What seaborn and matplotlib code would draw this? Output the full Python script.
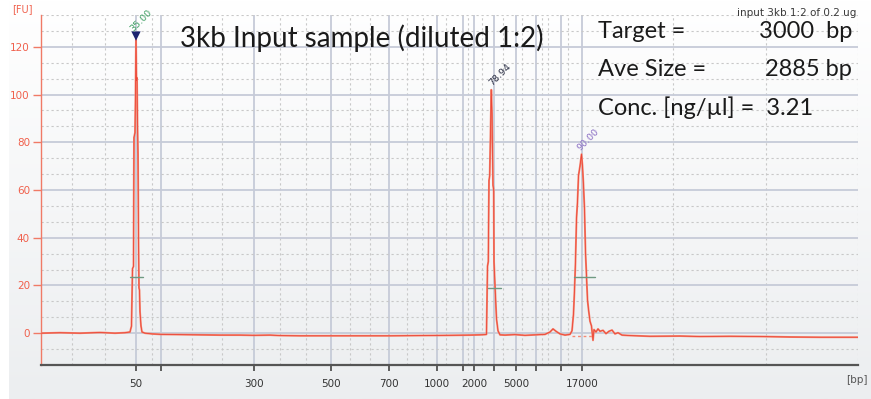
import matplotlib
matplotlib.use("Agg")
import matplotlib.pyplot as plt
import numpy as np
import seaborn as sns
from matplotlib.colors import LinearSegmentedColormap
from matplotlib.ticker import MultipleLocator

# Electropherogram trace: migration time [s] vs fluorescence [FU]
trace_time = [
    20.0, 20.95, 21.95, 22.95, 23.7, 24.2, 24.45, 24.525, 24.575, 24.625,
    24.65, 24.7, 24.725, 24.75, 24.775, 24.8, 24.825, 24.85, 24.875, 24.9,
    24.925, 24.95, 25.0, 25.05, 25.2, 25.55, 26.0, 26.95, 27.95, 28.95,
    29.95, 30.65, 31.45, 31.95, 32.95, 34.45, 35.95, 37.45, 38.95, 40.45,
    41.45, 41.95, 42.2, 42.275, 42.325, 42.365, 42.4, 42.435, 42.515, 42.55,
    42.6, 42.635, 42.65, 42.7, 42.775, 42.85, 42.95, 43.2, 43.7, 44.2,
    44.7, 45.2, 45.45, 45.6, 45.75, 45.95, 46.2, 46.45, 46.55, 46.625,
    46.675, 46.725, 46.775, 46.825, 46.875, 46.95, 47.025, 47.075, 47.125, 47.175,
    47.225, 47.275, 47.325, 47.375, 47.45, 47.525, 47.6, 47.65, 47.75, 47.85,
    47.95, 48.1, 48.25, 48.4, 48.55, 48.7, 48.85, 49.05, 49.45, 50.45,
    51.95, 52.95, 54.45, 55.95, 57.45, 58.95, 60.85,
]
trace_fu = [
    0.0, 0.2, 0.0, 0.3, 0.0, 0.2, 0.5, 3.0, 27.0, 28.0,
    82.0, 84.0, 100.0, 125.0, 106.0, 107.0, 88.0, 75.0, 40.0, 19.0,
    18.0, 9.0, 3.0, 0.5, 0.0, -0.3, -0.5, -0.6, -0.7, -0.8,
    -0.8, -0.9, -0.8, -1.0, -1.1, -1.1, -1.1, -1.1, -1.0, -0.9,
    -0.8, -0.7, -0.6, -0.5, 28.0, 30.0, 64.0, 66.0, 102.0, 92.0,
    62.0, 60.0, 30.0, 20.0, 6.0, 1.0, -0.7, -0.8, -0.6, -0.9,
    -0.7, -0.5, 0.5, 1.8, 0.8, -0.3, -0.8, -0.5, 1.0, 8.0,
    18.0, 30.0, 48.0, 55.0, 66.0, 70.0, 75.0, 70.0, 62.0, 52.0,
    34.0, 24.0, 14.0, 10.0, 5.0, 3.0, -3.0, 1.5, 0.5, 1.8,
    0.8, 1.2, -0.2, 0.8, 1.3, -0.3, 0.2, -0.8, -1.0, -1.3,
    -1.2, -1.4, -1.3, -1.4, -1.6, -1.7, -1.7,
]

# Size ladder (bp) positions on the time axis
ladder_time = [24.75, 26.0, 30.65, 34.5, 37.4, 39.8, 41.1, 41.65, 42.65, 43.75, 44.75, 46.0, 47.05]
ladder_label = ["50", "", "300", "500", "700", "1000", "", "2000", "", "5000", "", "", "17000"]
minor_time = [21.55, 23.2, 25.55, 27.55, 29.05, 31.95, 33.25, 35.45, 36.45, 38.3,
              39.1, 40.25, 41.35, 42.05, 43.1, 44.05, 45.05, 45.35, 46.35, 51.6,
              56.25, 60.85]

fu_ticks = [0, 20, 40, 60, 80, 100, 120]

# Peak annotations
peak_labels = ["35.00", "78.94", "90.00"]
peak_label_time = [25.0, 42.95, 47.35]
peak_label_fu = [131.0, 108.5, 81.0]
marker_time = [24.75]
marker_fu = [124.5]

# Peak region markers
region_start = [24.45, 42.35, 46.65]
region_end = [25.1, 43.0, 47.7]
region_fu = [23.7, 19.0, 23.4]

stats_left = ["Target =", "Ave Size =", "Conc. [ng/\u00b5l] =  3.21"]
stats_right = ["3000  bp", "2885 bp", ""]

W, H = 871, 399
sns.set_theme(style="white")
plt.rcParams["font.family"] = ["DejaVu Sans"]

fig = plt.figure(figsize=(W / 100, H / 100), dpi=100, facecolor="white")

# soft grey gradient panel behind the chart
bg = fig.add_axes([9 / W, 0, 1 - 9 / W, 1], zorder=-1)
grad_cmap = LinearSegmentedColormap.from_list("bg", ["#ffffff", "#eceef0"])
bg.imshow(np.linspace(0, 1, 256)[:, None], cmap=grad_cmap, aspect="auto")
bg.axis("off")

ax = fig.add_axes([41 / W, 1 - 365 / H, (858 - 41) / W, (365 - 15) / H])
ax.set_facecolor("none")

sns.lineplot(x=trace_time, y=trace_fu, ax=ax, color="#f58a74", lw=1.4,
             sort=False, estimator=None, zorder=3)
sns.lineplot(x=trace_time, y=trace_fu, ax=ax, color="#e8281c", lw=0.6,
             alpha=0.7, sort=False, estimator=None, zorder=4)
sns.scatterplot(x=marker_time, y=marker_fu, ax=ax, marker="v", s=45,
                color="#1c2470", edgecolor="none", zorder=5)

for t0, t1, v in zip(region_start, region_end, region_fu):
    ax.plot([t0, t1], [v, v], color="#6f9a82", lw=1.0, zorder=5)
ax.plot([46.55, 47.6], [-1.2, -1.2], color="#f58a74", lw=1.0, ls=(0, (2, 2)), zorder=3)

label_colors = ["#3f9f63", "#2a2e44", "#8a6ec4"]
for txt, t, v, c in zip(peak_labels, peak_label_time, peak_label_fu, label_colors):
    ax.text(t, v, txt, rotation=45, ha="center", va="center", fontsize=6.8,
            color=c, zorder=6)

ax.set_xlim(20, 60.85)
ax.set_ylim(-40 / 3, 400 / 3)

ax.set_xticks(ladder_time)
ax.set_xticklabels(ladder_label)
ax.set_xticks(minor_time, minor=True)
ax.set_yticks(fu_ticks)
ax.yaxis.set_minor_locator(MultipleLocator(20 / 3))

ax.tick_params(axis="x", which="major", bottom=True, length=4, width=1.2,
               color="#444444", labelsize=7.5, labelcolor="#333333", pad=6)
ax.tick_params(axis="y", which="major", left=True, length=6, width=1,
               color="#f07a66", labelsize=7.5, labelcolor="#f0604c", pad=2)
ax.tick_params(which="minor", length=0)

ax.grid(axis="both", which="major", color="#c6cbd8", lw=1.3, ls="-", zorder=0)
ax.grid(axis="both", which="minor", color="#c8c8c8", lw=0.8, ls=(0, (2, 2.5)), zorder=0)
ax.set_axisbelow(True)

for s in ["top", "right"]:
    ax.spines[s].set_visible(False)
ax.spines["left"].set_color("#f07a66")
ax.spines["left"].set_linewidth(1.0)
ax.spines["bottom"].set_color("#555555")
ax.spines["bottom"].set_linewidth(1.6)

# texts
fig.text(22 / W, 1 - 9 / H, "[FU]", ha="center", va="center", fontsize=7, color="#f0604c")
fig.text(868 / W, 1 - 380 / H, "[bp]", ha="right", va="center", fontsize=7.5, color="#555555")
fig.text(856 / W, 1 - 13 / H, "input 3kb 1:2 of 0.2 ug", ha="right", va="center",
         fontsize=7.5, color="#3a3a3a")
fig.text(180 / W, 1 - 38 / H, "3kb Input sample (diluted 1:2)", ha="left", va="center",
         fontsize=20, color="#1a1a1a", family="Lato")
for i, (lt, rt) in enumerate(zip(stats_left, stats_right)):
    y = 1 - (31 + 38.5 * i) / H
    fig.text(598 / W, y, lt, ha="left", va="center", fontsize=17, color="#1a1a1a", family="Lato")
    if rt:
        fig.text(852 / W, y, rt, ha="right", va="center", fontsize=17, color="#1a1a1a", family="Lato")

fig.savefig("out.png", dpi=100, facecolor="white")
